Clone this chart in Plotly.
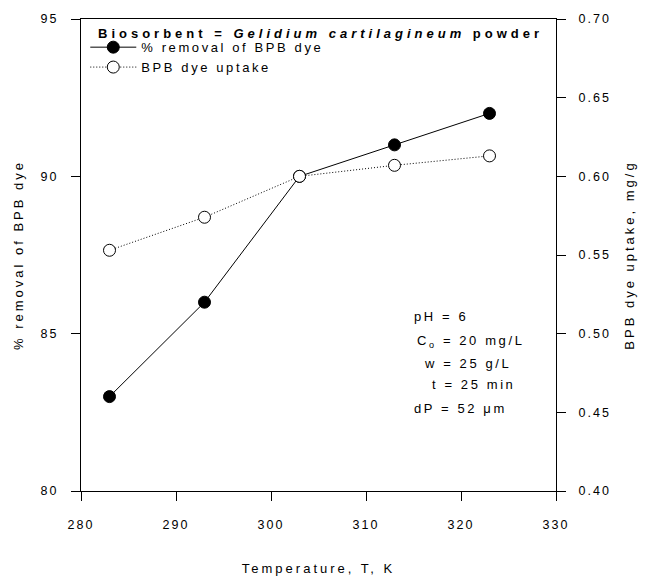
import plotly.graph_objects as go

temps = [283, 293, 303, 313, 323]
removal = [83.0, 86.0, 90.0, 91.0, 92.0]
uptake = [0.553, 0.574, 0.600, 0.607, 0.613]

x_ticks = [280, 290, 300, 310, 320, 330]
y1_ticks = [80, 85, 90, 95]
y2_ticks = [0.40, 0.45, 0.50, 0.55, 0.60, 0.65, 0.70]

FONT = "Liberation Sans, Arial, sans-serif"
LS_TICK = 2
LS_TEXT = 2.6


def sp(t, ls=LS_TEXT):
    return f'<span style="letter-spacing:{ls}px">{t}</span>'


fig = go.Figure()
fig.add_trace(go.Scatter(
    x=temps, y=removal, mode="lines+markers", name=sp("% removal of BPB dye"),
    line=dict(color="black", width=1),
    marker=dict(symbol="circle", size=12, color="black", line=dict(color="black", width=1)),
    yaxis="y"))
fig.add_trace(go.Scatter(
    x=temps, y=uptake, mode="lines+markers", name=sp("BPB dye uptake"),
    line=dict(color="black", width=1, dash="1px,2px"),
    marker=dict(symbol="circle", size=12, color="white", line=dict(color="black", width=1)),
    yaxis="y2"))

tickfont = dict(family=FONT, size=12.5, color="black")
titlefont = dict(family=FONT, size=13, color="black")

fig.update_layout(
    width=647, height=585,
    margin=dict(l=81, r=91, t=13, b=94),
    paper_bgcolor="white", plot_bgcolor="white",
    font=dict(family=FONT, size=13, color="black"),
    showlegend=True,
    legend=dict(x=0.009, y=0.972, xanchor="left", yanchor="top",
                bgcolor="rgba(0,0,0,0)", font=dict(family=FONT, size=13, color="black"),
                tracegroupgap=0, itemwidth=46),
    xaxis=dict(range=[280, 330], tickvals=x_ticks,
               ticktext=[sp(str(v), LS_TICK) for v in x_ticks],
               showgrid=False, zeroline=False, showline=True, linecolor="black", linewidth=1,
               mirror=True, ticks="outside", ticklen=9, tickcolor="black",
               tickfont=tickfont, ticklabelstandoff=13,
               title=dict(text=sp("Temperature, T, K", 3), font=titlefont, standoff=32)),
    yaxis=dict(range=[80, 95], tickvals=y1_ticks,
               ticktext=[sp(str(v), LS_TICK) for v in y1_ticks],
               showgrid=False, zeroline=False, showline=True, linecolor="black", linewidth=1,
               ticks="outside", ticklen=9, tickcolor="black", tickfont=tickfont,
               ticklabelstandoff=10,
               title=dict(text=sp("% removal of BPB dye", 3), font=titlefont, standoff=14)),
    yaxis2=dict(range=[0.40, 0.70], tickvals=y2_ticks,
                ticktext=[sp(f"{v:.2f}", LS_TICK) for v in y2_ticks],
                overlaying="y", side="right",
                showgrid=False, zeroline=False, showline=True, linecolor="black", linewidth=1,
                ticks="outside", ticklen=9, tickcolor="black", tickfont=tickfont,
                ticklabelstandoff=10,
                title=dict(text=sp("BPB dye uptake, mg/g", 3), font=titlefont, standoff=15)),
)

fig.add_annotation(
    text=sp("<b>Biosorbent = <i>Gelidium cartilagineum</i> powder</b>", 4.0),
    x=(320 - 81) / 475, y=(491 - 28) / 478, xref="paper", yref="paper",
    xanchor="center", yanchor="middle",
    showarrow=False, font=dict(family=FONT, size=13, color="black"))

conds = [
    ("pH = 6", 412, 314),
    ("C<sub>o</sub> = 20 mg/L", 415, 340),
    ("w = 25 g/L", 422, 362),
    ("t = 25 min", 430, 383),
    ("dP = 52 μm", 412, 407),
]
for txt, px, py in conds:
    fig.add_annotation(
        text=sp(txt, 2.6), x=(px - 81) / 475, y=(491 - py) / 478,
        xref="paper", yref="paper", xanchor="left", yanchor="middle",
        showarrow=False, font=dict(family=FONT, size=13, color="black"))

fig.write_html("out.html")
